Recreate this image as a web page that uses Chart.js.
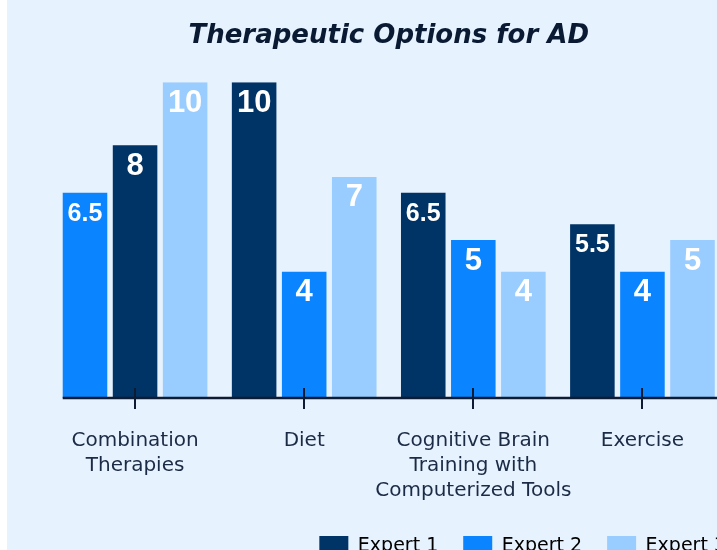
<!DOCTYPE html>
<html>
<head>
<meta charset="utf-8">
<script src="https://cdn.jsdelivr.net/npm/chart.js@4"></script>
<style>
  html, body { margin: 0; padding: 0; background: #ffffff; overflow: hidden; }
  #wrap { position: absolute; left: 7px; top: 0; width: 754px; height: 576px; background: #e6f2fe; }
</style>
</head>
<body>
<div id="wrap"><canvas id="chart"></canvas></div>
<script>
const categories = [["Combination", "Therapies"], ["Diet"], ["Cognitive Brain", "Training with", "Computerized Tools"], ["Exercise"]];
const expertNames = ["Expert 1", "Expert 2", "Expert 3"];
const expert1 = [8, 10, 6.5, 5.5];
const expert2 = [6.5, 4, 5, 4];
const expert3 = [10, 7, 4, 5];
// which expert sits in the left / middle / right slot of each group
const slotOrder = [[1, 0, 2], [0, 1, 2], [0, 1, 2], [0, 1, 2]];
const yMin = 0;
const yMax = 10;

const colors = ["#003366", "#0a84ff", "#99ccff"];
const experts = [expert1, expert2, expert3];
const textColor = "#1c2b45";

const datasets = [0, 1, 2].map(slot => ({
    label: "slot " + slot,
    data: categories.map((c, i) => experts[slotOrder[i][slot]][i]),
    backgroundColor: categories.map((c, i) => colors[slotOrder[i][slot]]),
    borderWidth: 0,
    barPercentage: 0.89,
    categoryPercentage: 0.888
}));

// white numbers inside the top of each bar
const valueLabels = {
    id: "valueLabels",
    afterDatasetsDraw(chart) {
        const ctx = chart.ctx;
        ctx.save();
        ctx.fillStyle = "#ffffff";
        ctx.textAlign = "center";
        ctx.textBaseline = "middle";
        chart.data.datasets.forEach((ds, d) => {
            chart.getDatasetMeta(d).data.forEach((bar, i) => {
                const txt = String(ds.data[i]);
                ctx.font = (txt.includes(".") ? "bold 25px" : "bold 31px") + " 'Liberation Sans', Arial, sans-serif";
                ctx.fillText(txt, bar.x, bar.y + 21);
            });
        });
        ctx.restore();
    }
};

// baseline + tick marks crossing it
const axisLine = {
    id: "axisLine",
    afterDatasetsDraw(chart) {
        const ctx = chart.ctx;
        const x = chart.scales.x;
        const y0 = chart.scales.y.getPixelForValue(0);
        const first = chart.getDatasetMeta(0).data[0];
        ctx.save();
        ctx.strokeStyle = "#0d1b33";
        ctx.lineWidth = 2.5;
        ctx.beginPath();
        ctx.moveTo(first.x - first.width / 2, y0);
        ctx.lineTo(chart.chartArea.right, y0);
        ctx.stroke();
        ctx.lineWidth = 2;
        x.ticks.forEach((t, i) => {
            const px = Math.round(x.getPixelForTick(i));
            ctx.beginPath();
            ctx.moveTo(px, y0 - 10);
            ctx.lineTo(px, y0 + 11);
            ctx.stroke();
        });
        ctx.restore();
    }
};

const hiddenAxis = {
    display: true,
    grid: { display: false },
    border: { display: false },
    ticks: { display: false },
    afterFit: s => { s.width = 24; }
};

new Chart(document.getElementById("chart"), {
    type: "bar",
    data: { labels: categories, datasets: datasets },
    options: {
        responsive: true,
        maintainAspectRatio: false,
        animation: false,
        layout: { padding: { left: 19.5, right: 10, top: 0, bottom: 10 } },
        plugins: {
            title: {
                display: true,
                text: "Therapeutic Options for AD",
                color: "#0b1a33",
                font: { family: "'DejaVu Sans', sans-serif", size: 26, weight: "bold", style: "italic" },
                padding: { top: 21, bottom: 30 }
            },
            legend: {
                position: "bottom",
                align: "end",
                labels: {
                    boxWidth: 29,
                    boxHeight: 20,
                    padding: 25,
                    color: textColor,
                    font: { family: "'DejaVu Sans', sans-serif", size: 19 },
                    generateLabels: () => expertNames.map((n, i) => ({
                        text: n, fillStyle: colors[i], strokeStyle: colors[i], lineWidth: 0, hidden: false, datasetIndex: i
                    }))
                },
                onClick: () => {}
            },
            tooltip: { enabled: false }
        },
        scales: {
            x: {
                grid: { display: false, drawTicks: false },
                border: { display: false },
                ticks: {
                    padding: 30,
                    color: textColor,
                    maxRotation: 0,
                    autoSkip: false,
                    font: { family: "'DejaVu Sans', sans-serif", size: 20, lineHeight: 1.25 }
                },
                afterFit: s => { s.height -= 22; }
            },
            y: Object.assign({ position: "left", min: yMin, max: yMax }, hiddenAxis),
            y2: Object.assign({ type: "linear", position: "right" }, hiddenAxis)
        }
    },
    plugins: [valueLabels, axisLine]
});
</script>
</body>
</html>
